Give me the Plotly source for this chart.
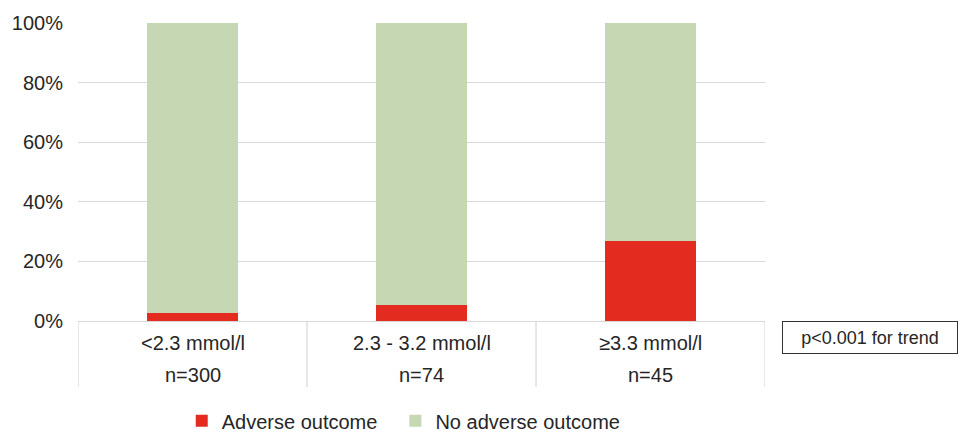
import plotly.graph_objects as go

categories = ["<2.3 mmol/l", "2.3 - 3.2 mmol/l", "≥3.3 mmol/l"]
n_labels = ["n=300", "n=74", "n=45"]
adverse = [2.7, 5.4, 26.7]
no_adverse = [97.3, 94.6, 73.3]
y_ticks = [0, 20, 40, 60, 80, 100]
y_ticklabels = ["0%", "20%", "40%", "60%", "80%", "100%"]

RED = "#e32c1f"
GREEN = "#c6d7b4"
FONT = "Liberation Sans, Arial, sans-serif"
TXT = "#262626"

x = list(range(len(categories)))

fig = go.Figure()
fig.add_trace(go.Bar(x=x, y=adverse, name="Adverse outcome", marker_color=RED,
                     marker_line_width=0, width=0.4, legend="legend"))
fig.add_trace(go.Bar(x=x, y=no_adverse, name="No adverse outcome", marker_color=GREEN,
                     marker_line_width=0, width=0.4, legend="legend2"))

shapes = []
for b in [-0.5, 0.5, 1.5, 2.5]:
    shapes.append(dict(type="line", xref="x", yref="paper", x0=b, x1=b, y0=0, y1=-0.222,
                       line=dict(color="#d0d0d0", width=1)))

annotations = []
for i, (c, n) in enumerate(zip(categories, n_labels)):
    annotations.append(dict(x=i, y=0, xref="x", yref="paper", text=c, showarrow=False,
                            yanchor="middle", yshift=-22,
                            font=dict(size=20, color=TXT, family=FONT)))
    annotations.append(dict(x=i, y=0, xref="x", yref="paper", text=n, showarrow=False,
                            yanchor="middle", yshift=-54,
                            font=dict(size=20, color=TXT, family=FONT)))

annotations.append(dict(x=1.1525, y=-0.057, xref="paper", yref="paper",
                        xanchor="center", yanchor="middle",
                        text="p<0.001 for trend", showarrow=False,
                        font=dict(size=18, color=TXT, family=FONT),
                        bordercolor="#333333", borderwidth=1, borderpad=3,
                        width=168, height=25, bgcolor="white"))

legend_common = dict(orientation="h", xanchor="left", y=-0.335, yanchor="middle",
                     font=dict(size=20, color=TXT, family=FONT), itemwidth=30,
                     bgcolor="rgba(0,0,0,0)")

fig.update_layout(
    barmode="stack",
    width=960, height=433,
    margin=dict(l=78, r=195, t=23, b=112, autoexpand=False),
    plot_bgcolor="white", paper_bgcolor="white",
    font=dict(family=FONT, size=20, color=TXT),
    showlegend=True,
    legend=dict(x=0.151, **legend_common),
    legend2=dict(x=0.462, **legend_common),
    shapes=shapes,
    annotations=annotations,
)
fig.update_xaxes(range=[-0.5, 2.5], showticklabels=False, showgrid=False, zeroline=False,
                 showline=False, ticks="")
fig.update_yaxes(range=[0, 100], tickvals=y_ticks, ticktext=y_ticklabels,
                 showgrid=True, gridcolor="#d9d9d9", gridwidth=1,
                 zeroline=True, zerolinecolor="#d9d9d9", zerolinewidth=1,
                 showline=False, ticks="", ticklabelstandoff=14,
                 tickfont=dict(size=20, color=TXT, family=FONT))

fig.write_html("out.html", config={"displayModeBar": False},
               post_script="document.body.style.margin='0';")
